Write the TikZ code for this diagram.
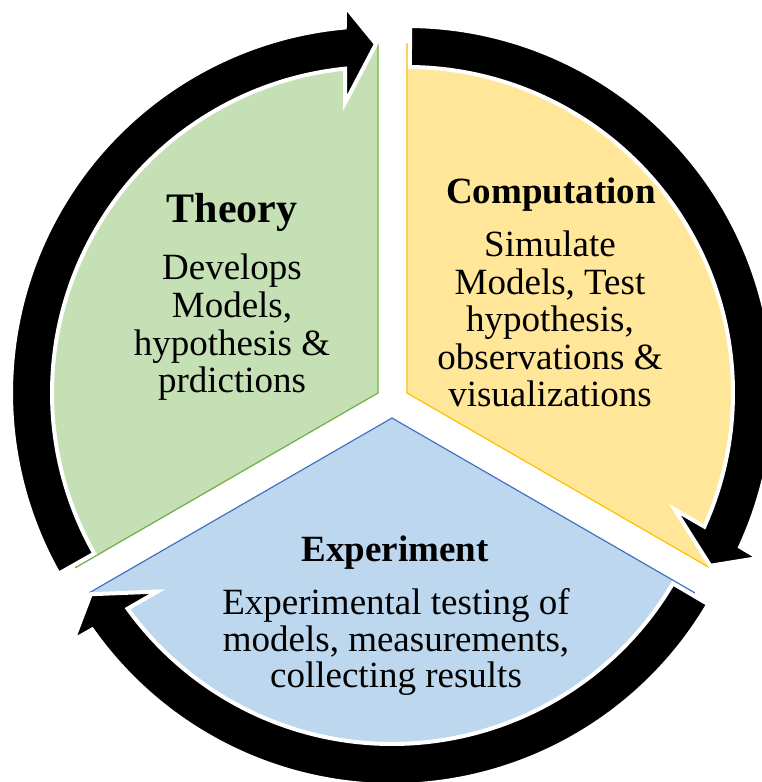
\documentclass[tikz,border=0pt]{standalone}
\usepackage{fontspec}
\setmainfont{Liberation Serif}
\definecolor{greenfill}{HTML}{C5E0B4}
\definecolor{greenline}{HTML}{70AD47}
\definecolor{yellowfill}{HTML}{FFE699}
\definecolor{yellowline}{HTML}{FFC000}
\definecolor{bluefill}{HTML}{BDD7EE}
\definecolor{blueline}{HTML}{4472C4}
\tikzset{
  sector/.style={line width=1.2pt, line join=miter},
  cyclearrowstyle/.style={fill=black, draw=white, line width=4pt, line join=miter},
  % one circular arrow, tip at 90 degrees, running clockwise from 209.5 degrees
  cyclearrow/.pic={
    \path[cyclearrowstyle]
      (209.5:367) arc[start angle=209.5, end angle=95.2, radius=367]
      -- (-33,387) -- (-2,349) -- (-33,290)
      -- (95.8:326) arc[start angle=95.8, end angle=209.5, radius=326]
      -- cycle;
  },
  titletext/.style={anchor=base, inner sep=0pt, font=\fontsize{37}{38}\selectfont\bfseries},
  bodytext/.style={anchor=base, inner sep=0pt, font=\fontsize{37}{38}\selectfont}
}
\begin{document}
\begin{tikzpicture}[x=1pt, y=1pt]
\useasboundingbox (0,0) rectangle (762,782);

% centres of the three segments
\coordinate (cg) at (378,389);
\coordinate (cy) at (407,389);
\coordinate (cb) at (392,364);

% pie segments
\filldraw[sector, fill=greenfill, draw=greenline]
  (cg) -- ++(90:349) arc[start angle=90, end angle=210, radius=349] -- cycle;
\filldraw[sector, fill=yellowfill, draw=yellowline]
  (cy) -- ++(-30:349) arc[start angle=-30, end angle=90, radius=349] -- cycle;
\filldraw[sector, fill=bluefill, draw=blueline]
  (cb) -- ++(210:349) arc[start angle=210, end angle=330, radius=349] -- cycle;

% circular arrows around the segments
\pic at (cg) {cyclearrow};
\pic[rotate=-120] at (cy) {cyclearrow};
\pic[rotate=120] at (cb) {cyclearrow};

% Theory
\node[titletext, font=\fontsize{42}{44}\selectfont\bfseries] (theory) at (232,559) {Theory};
\node[bodytext] (th1) at (232,502) {Develops};
\node[bodytext] (th2) at (232,464) {Models,};
\node[bodytext] (th3) at (232,426) {hypothesis \&};
\node[bodytext] (th4) at (232,389) {prdictions};

% Computation
\node[titletext] (computation) at (551,578) {Computation};
\node[bodytext] (co1) at (550,525) {Simulate};
\node[bodytext] (co2) at (550,487) {Models, Test};
\node[bodytext] (co3) at (550,450) {hypothesis,};
\node[bodytext] (co4) at (550,412) {observations \&};
\node[bodytext] (co5) at (550,375) {visualizations};

% Experiment
\node[titletext] (experiment) at (395,220) {Experiment};
\node[bodytext] (ex1) at (396,167) {Experimental testing of};
\node[bodytext] (ex2) at (396,130) {models, measurements,};
\node[bodytext] (ex3) at (396,94) {collecting results};
\end{tikzpicture}
\end{document}
